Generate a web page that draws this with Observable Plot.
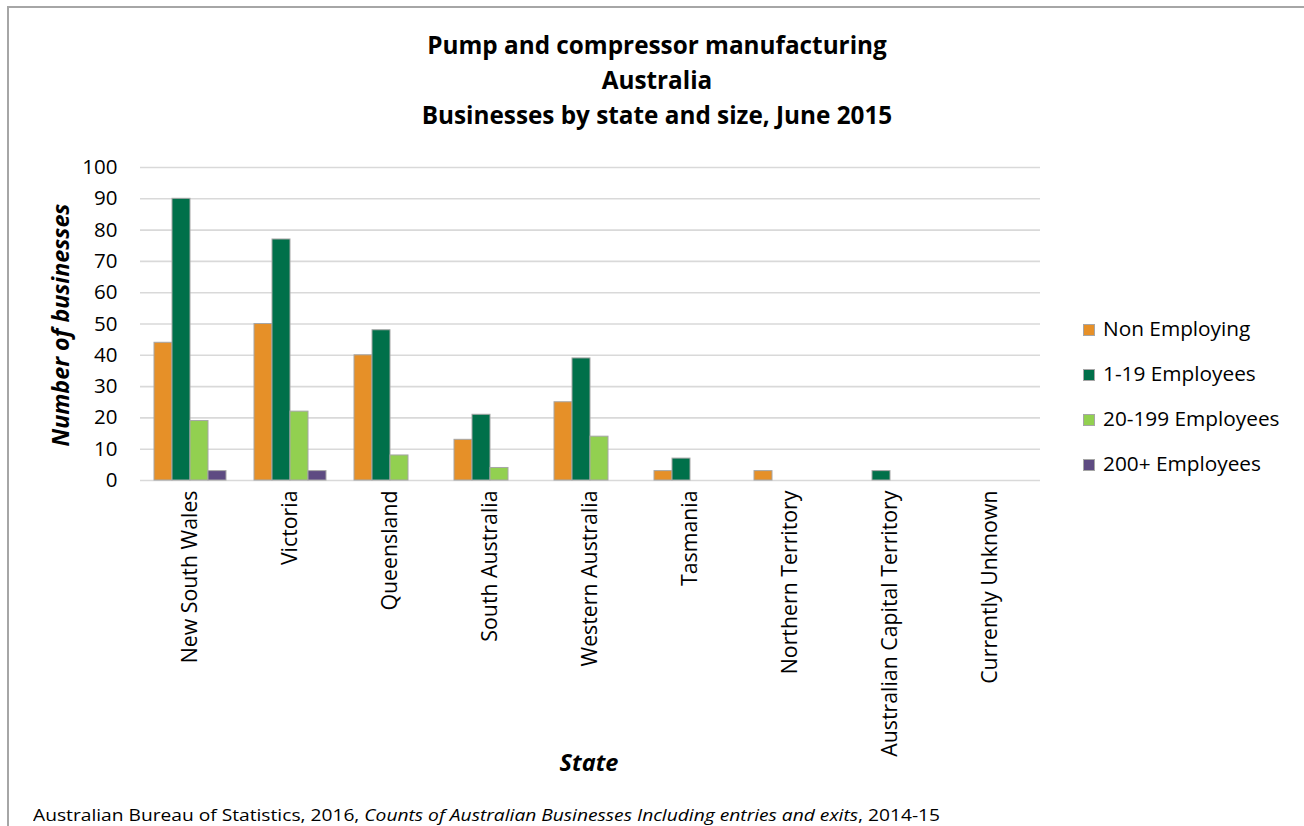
<!DOCTYPE html>
<html>
<head>
<meta charset="utf-8">
<script src="https://cdn.jsdelivr.net/npm/d3@7"></script>
<script src="https://cdn.jsdelivr.net/npm/@observablehq/plot@0.6"></script>
<style>
  html, body { margin: 0; padding: 0; background: #fff; }
  #wrap { position: relative; width: 1304px; height: 826px; overflow: hidden; font-family: "Open Sans", sans-serif; color: #000; }
  #border { position: absolute; left: 7px; top: 6px; width: 1400px; height: 900px; border-top: 2px solid #a6a6a6; border-left: 2px solid #a6a6a6; box-sizing: border-box; }
  #title { position: absolute; left: 0; width: 1314px; top: 27px; text-align: center; font-weight: bold; font-size: 24.3px; line-height: 35px; }
  #ylabel { position: absolute; left: 60px; top: 325px; transform: translate(-50%, -50%) rotate(-90deg); font-weight: bold; font-style: italic; font-size: 23.3px; white-space: nowrap; }
  #xlabel { position: absolute; left: 589px; top: 762px; transform: translate(-50%, -50%); font-weight: bold; font-style: italic; font-size: 23.5px; }
  #footer { position: absolute; left: 33px; top: 803px; font-size: 17px; white-space: nowrap; transform-origin: 0 0; }
  #legend { position: absolute; left: 1083px; top: 314px; font-size: 20.8px; }
  .li { height: 45px; display: flex; align-items: flex-start; }
  .sw { width: 12px; height: 12px; margin-top: 10px; margin-right: 8px; box-sizing: border-box; border: 1px solid #a6a6a6; }
  #chart { position: absolute; left: 0; top: 0; }
</style>
</head>
<body>
<div id="wrap">
  <div id="border"></div>
  <div id="chart"></div>
  <div id="title"></div>
  <div id="ylabel"></div>
  <div id="xlabel"></div>
  <div id="footer"></div>
  <div id="legend"></div>
</div>
<script>
const titleLines = ["Pump and compressor manufacturing", "Australia", "Businesses by state and size, June 2015"];
const yLabel = "Number of businesses";
const xLabel = "State";
const states = ["New South Wales", "Victoria", "Queensland", "South Australia", "Western Australia", "Tasmania", "Northern Territory", "Australian Capital Territory", "Currently Unknown"];
const seriesNames = ["Non Employing", "1-19 Employees", "20-199 Employees", "200+ Employees"];
const seriesColors = ["#E69028", "#00704A", "#92D050", "#5E4B82"];
const nonEmploying = [44, 50, 40, 13, 25, 3, 3, 0, 0];
const emp1to19 = [90, 77, 48, 21, 39, 7, 0, 3, 0];
const emp20to199 = [19, 22, 8, 4, 14, 0, 0, 0, 0];
const emp200plus = [3, 3, 0, 0, 0, 0, 0, 0, 0];
const yTicks = [0, 10, 20, 30, 40, 50, 60, 70, 80, 90, 100];

const seriesValues = [nonEmploying, emp1to19, emp20to199, emp200plus];
const data = [];
states.forEach((s, i) => seriesNames.forEach((n, j) => data.push({state: s, series: n, value: seriesValues[j][i]})));

document.getElementById("title").innerHTML = titleLines.map(t => `<div>${t}</div>`).join("");
document.getElementById("ylabel").textContent = yLabel;
document.getElementById("xlabel").textContent = xLabel;
const footer = document.getElementById("footer");
footer.innerHTML = "Australian Bureau of Statistics, 2016, <i>Counts of Australian Businesses Including entries and exits</i>, 2014-15";
document.getElementById("legend").innerHTML = seriesNames.map((n, j) =>
  `<div class="li"><div class="sw" style="background:${seriesColors[j]}"></div><div>${n}</div></div>`).join("");

const chart = Plot.plot({
  width: 1304,
  height: 826,
  marginLeft: 140,
  marginRight: 264,
  marginTop: 167,
  marginBottom: 346,
  style: {fontFamily: "'Open Sans', sans-serif", fontSize: "20.5px", color: "#000", background: "transparent", overflow: "visible"},
  fx: {domain: states, paddingInner: 0.26, paddingOuter: 0.13},
  x: {domain: seriesNames, padding: 0, axis: null},
  y: {domain: [0, 100]},
  color: {domain: seriesNames, range: seriesColors},
  marks: [
    Plot.ruleY(yTicks, {stroke: "#d9d9d9", strokeWidth: 1.6, insetLeft: -13, insetRight: -13}),
    Plot.barY(data, {fx: "state", x: "series", y: "value", fill: "series", stroke: "#a6a6a6", strokeWidth: 1, filter: d => d.value > 0}),
    Plot.axisY({ticks: yTicks, tickSize: 0, tickPadding: 23, dx: -13, label: null, fill: "#000"}),
    Plot.axisFx({anchor: "bottom", tickRotate: -90, tickSize: 0, tickPadding: 10, fontSize: 21.3, label: null, fill: "#000"})
  ]
});
document.getElementById("chart").appendChild(chart);

const w = footer.getBoundingClientRect().width;
footer.style.transform = `scaleX(${907 / w})`;
</script>
</body>
</html>
